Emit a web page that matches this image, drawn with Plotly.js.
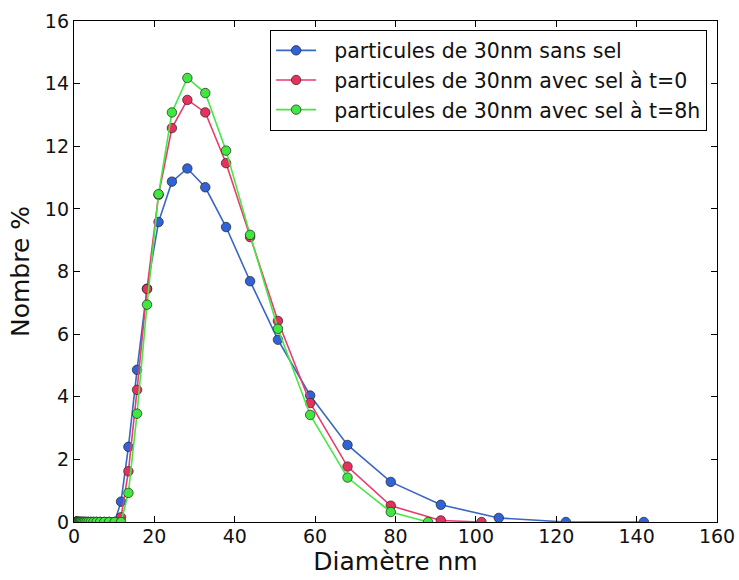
<!DOCTYPE html>
<html>
<head>
<meta charset="utf-8">
<script src="https://cdn.plot.ly/plotly-3.0.1.min.js"></script>
<style>html,body{margin:0;padding:0;background:#fff;}#chart{width:739px;height:580px;}</style>
</head>
<body>
<div id="chart"></div>
<script>
// Size bins (nm) below 11 nm, all at 0 %
const lowBins = [0.4, 0.4632, 0.5365, 0.6213, 0.7195, 0.8332, 0.9649, 1.117, 1.294, 1.499, 1.736, 2.01, 2.328, 2.696, 3.122, 3.615, 4.187, 4.849, 5.615, 6.503, 7.531, 8.721, 10.1];
const lowZeros = lowBins.map(() => 0);

// particules de 30nm sans sel
const xSansSel = [11.7, 13.54, 15.69, 18.17, 21.04, 24.36, 28.21, 32.67, 37.84, 43.82, 50.75, 58.77, 68.06, 78.82, 91.28, 105.7, 122.4, 141.8];
const ySansSel = [0.65, 2.40, 4.86, 7.45, 9.58, 10.87, 11.29, 10.69, 9.42, 7.69, 5.82, 4.04, 2.46, 1.28, 0.55, 0.13, 0, 0];

// particules de 30nm avec sel à t=0
const xSelT0 = [11.7, 13.54, 15.69, 18.17, 21.04, 24.36, 28.21, 32.67, 37.84, 43.82, 50.75, 58.77, 68.06, 78.82, 91.28, 101.4];
const ySelT0 = [0.15, 1.62, 4.22, 7.44, 10.45, 12.58, 13.48, 13.08, 11.46, 9.10, 6.42, 3.80, 1.77, 0.52, 0.05, 0];

// particules de 30nm avec sel à t=8h
const xSelT8 = [11.7, 13.54, 15.69, 18.17, 21.04, 24.36, 28.21, 32.67, 37.84, 43.82, 50.75, 58.77, 68.06, 78.82, 88.1];
const ySelT8 = [0, 0.93, 3.46, 6.94, 10.47, 13.08, 14.18, 13.70, 11.86, 9.17, 6.17, 3.42, 1.42, 0.32, 0];

const names = ["particules de 30nm sans sel", "particules de 30nm avec sel à t=0", "particules de 30nm avec sel à t=8h"];
const colors = ["#2f63d6", "#e8305f", "#3ee83e"];
const lineColors = ["#3a66c4", "#ea3a6e", "#44e844"];

const FONT = "DejaVu Sans, Arial, sans-serif";

function mk(x, y, i) {
  return {
    type: "scatter", mode: "lines+markers", name: "\u00a0\u00a0" + names[i],
    x: lowBins.concat(x), y: lowZeros.concat(y),
    line: {color: lineColors[i], width: 1.6},
    marker: {color: colors[i], size: 9.5, line: {color: "#222", width: 0.7}},
    cliponaxis: true
  };
}

const data = [mk(xSansSel, ySansSel, 0), mk(xSelT0, ySelT0, 1), mk(xSelT8, ySelT8, 2)];

const axisCommon = {
  showline: true, linecolor: "#000", linewidth: 1.2, mirror: "ticks",
  ticks: "inside", ticklen: 6, tickcolor: "#000", tickwidth: 1,
  showgrid: false, zeroline: false,
  tickfont: {family: FONT, size: 19, color: "#111"}
};

const layout = {
  width: 739, height: 580,
  margin: {l: 74, r: 22, t: 21, b: 58},
  paper_bgcolor: "#fff", plot_bgcolor: "#fff",
  showlegend: true,
  legend: {
    x: 0.305, y: 0.983, xanchor: "left", yanchor: "top",
    bgcolor: "#fff", bordercolor: "#000", borderwidth: 1,
    font: {family: FONT, size: 20.5, color: "#111"},
    tracegroupgap: 0, itemwidth: 40
  },
  xaxis: Object.assign({}, axisCommon, {
    range: [0, 160], dtick: 20, tick0: 0, ticklabelstandoff: -3,
    title: {text: "Diamètre nm", font: {family: FONT, size: 25, color: "#111"}, standoff: 0}
  }),
  yaxis: Object.assign({}, axisCommon, {
    range: [0, 16], dtick: 2, tick0: 0,
    title: {text: "Nombre %", font: {family: FONT, size: 25, color: "#111"}, standoff: 8}
  })
};

Plotly.newPlot("chart", data, layout, {displayModeBar: false, staticPlot: true});
</script>
</body>
</html>
